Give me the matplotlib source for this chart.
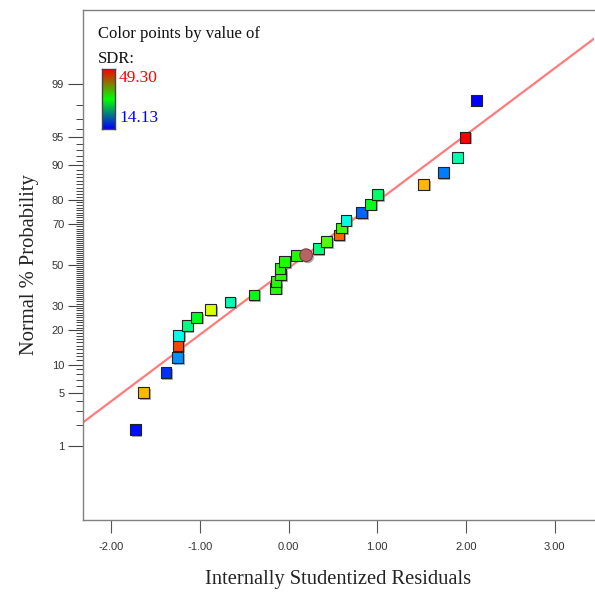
from statistics import NormalDist

import matplotlib
matplotlib.use("Agg")
import matplotlib.pyplot as plt
import matplotlib.patheffects as pe
import numpy as np
from matplotlib.colors import LinearSegmentedColormap

# =========================
# 1. Data
# =========================
residuals = [-1.725, -1.631, -1.380, -1.251, -1.245, -1.237, -1.139, -1.034,
             -0.879, -0.658, -0.388, -0.143, -0.140, -0.090, -0.095, -0.042,
             0.088, 0.334, 0.428, 0.570, 0.601, 0.649, 0.823, 0.924,
             1.003, 1.522, 1.743, 1.901, 1.988, 2.115]
probability = [1.7, 5.0, 8.3, 11.7, 15.0, 18.3, 21.7, 25.0,
               28.3, 31.7, 35.0, 38.3, 41.7, 45.0, 48.3, 51.7,
               55.0, 58.3, 61.7, 65.0, 68.3, 71.7, 75.0, 78.3,
               81.7, 85.0, 88.3, 91.7, 95.0, 98.3]
sdr = [14.8, 42.9, 15.9, 19.1, 46.9, 23.5, 27.3, 30.7,
       39.2, 25.6, 31.0, 32.8, 32.8, 33.1, 32.8, 32.8,
       32.8, 27.5, 34.5, 45.8, 33.8, 24.0, 17.6, 30.7,
       28.2, 42.9, 18.5, 25.8, 49.3, 14.13]

# highlighted (circle) point
circle_residual = 0.198
circle_probability = 55.0

sdr_min, sdr_max = 14.13, 49.30

# fitted reference line  z = intercept + slope * residual
line_intercept = -0.04
line_slope = 0.857

prob_major = [1, 5, 10, 20, 30, 50, 70, 80, 90, 95, 99]
prob_minor = [2, 3, 4, 6, 7, 8, 9] + list(range(11, 20)) + list(range(21, 30)) \
    + list(range(31, 50)) + list(range(51, 70)) + list(range(71, 80)) \
    + list(range(81, 90)) + [91, 92, 93, 94, 96, 97, 98]
x_ticks = [-2.0, -1.0, 0.0, 1.0, 2.0, 3.0]

nd = NormalDist()


def to_z(p):
    return [nd.inv_cdf(v / 100.0) for v in p]


# =========================
# 2. Figure / axes
# =========================
fig = plt.figure(figsize=(5.95, 5.92), dpi=100)
ax = fig.add_axes([83 / 595, 1 - 520 / 592, (594 - 83) / 595, (520 - 10) / 592])

serif = "Liberation Serif"
sans = "Liberation Sans"

# point colors: blue -> cyan -> green -> yellow -> red
cmap = LinearSegmentedColormap.from_list(
    "hue", ["#0000ff", "#00ffff", "#00ff00", "#ffff00", "#ff0000"])

# reference line
xl = np.array([-2.316, 3.443])
ax.plot(xl, line_intercept + line_slope * xl, color="#ff7b7b", lw=1.6, zorder=2)

shadow = [pe.SimplePatchShadow(offset=(1.2, -1.2), shadow_rgbFace="#888888", alpha=0.7),
          pe.Normal()]

ax.scatter(residuals, to_z(probability), c=sdr, cmap=cmap, vmin=sdr_min, vmax=sdr_max,
           marker="s", s=60, edgecolors="#222222", linewidths=0.8, zorder=3,
           path_effects=shadow)
ax.scatter([circle_residual], to_z([circle_probability]), c="#b86262", marker="o", s=84,
           edgecolors="#7a4040", linewidths=0.8, zorder=4, path_effects=shadow)

# =========================
# 3. Axes formatting
# =========================
ax.set_xlim(-2.316, 3.443)
ax.set_ylim(-3.28, 3.28)

ax.set_xticks(x_ticks)
ax.set_xticklabels([f"{v:.2f}" for v in x_ticks], fontfamily=sans, fontsize=8,
                   color="#333333")
ax.set_yticks(to_z(prob_major))
ax.set_yticklabels([str(v) for v in prob_major], fontfamily=sans, fontsize=8,
                   color="#333333")
ax.set_yticks(to_z(prob_minor), minor=True)

ax.tick_params(axis="x", direction="out", length=9.5, width=0.8, color="#555555", pad=6)
ax.tick_params(axis="y", which="major", direction="out", length=10.5, width=0.8,
               color="#444444", pad=3)
ax.tick_params(axis="y", which="minor", direction="out", length=5, width=0.7,
               color="#444444")

for side in ["left", "bottom", "top"]:
    ax.spines[side].set_color("#808080")
    ax.spines[side].set_linewidth(1.0)
ax.spines["right"].set_visible(False)

ax.set_xlabel("Internally Studentized Residuals", fontfamily=serif, fontsize=14.8,
              color="#222222", labelpad=13)
ax.set_ylabel("Normal % Probability", fontfamily=serif, fontsize=14.8,
              color="#222222", labelpad=9)

# =========================
# 4. Color legend
# =========================
fig.text(98 / 595, 1 - 34 / 592, "Color points by value of", fontfamily=serif,
         fontsize=12, color="#111111", va="center", ha="left")
fig.text(98 / 595, 1 - 59 / 592, "SDR:", fontfamily=serif, fontsize=12,
         color="#111111", va="center", ha="left")

cax = fig.add_axes([102 / 595, 1 - 129 / 592, 13 / 595, 60 / 592])
bar_cmap = LinearSegmentedColormap.from_list("bar", ["#0000ff", "#00ff00", "#ff0000"])
cax.imshow(np.linspace(0, 1, 100).reshape(-1, 1), cmap=bar_cmap, aspect="auto",
           origin="lower", extent=[0, 1, 0, 1])
cax.set_xticks([])
cax.set_yticks([])
for s in cax.spines.values():
    s.set_color("#444444")
    s.set_linewidth(1.0)

fig.text(119 / 595, 1 - 78 / 592, f"{sdr_max:.2f}", fontfamily=serif, fontsize=12.5,
         color="#ff0000", va="center", ha="left")
fig.text(119 / 595, 1 - 118 / 592, f"{sdr_min:.2f}", fontfamily=serif, fontsize=12.5,
         color="#0000ff", va="center", ha="left")

fig.savefig("out.png", dpi=100)
